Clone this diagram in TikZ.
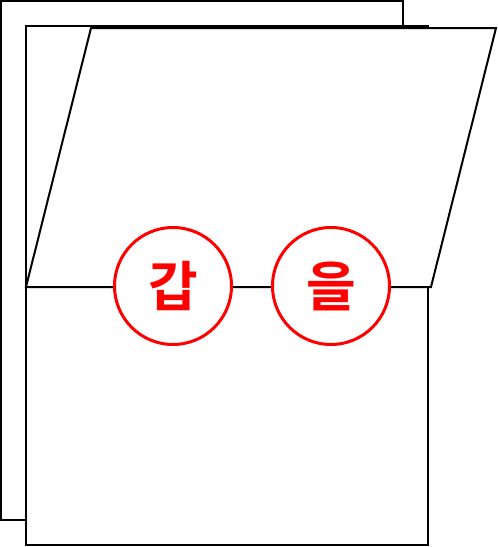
\documentclass[tikz,border=0pt]{standalone}
\usepackage{fontspec}
\newfontfamily\kr{Noto Sans CJK KR}[UprightFont=* Bold]
\definecolor{redc}{RGB}{255,0,0}
\begin{document}
\begin{tikzpicture}[x=1pt,y=-1pt,
  sheet/.style={draw=black,line width=2pt,fill=white},
  seal/.style={circle,draw=redc,line width=3pt,fill=white,minimum size=117pt,inner sep=0pt,text=redc,font=\kr\fontsize{54}{54}\selectfont}]
\useasboundingbox (0,0) rectangle (498,547);
\draw[sheet] (1,1) rectangle (403,520);
\draw[sheet] (26,26) rectangle (428,545);
\draw[sheet] (91,28) -- (496,28) -- (431,287) -- (26,287) -- cycle;
\node[seal] (gap) at (173,286) {갑};
\node[seal] (eul) at (331,286) {을};
\end{tikzpicture}
\end{document}
